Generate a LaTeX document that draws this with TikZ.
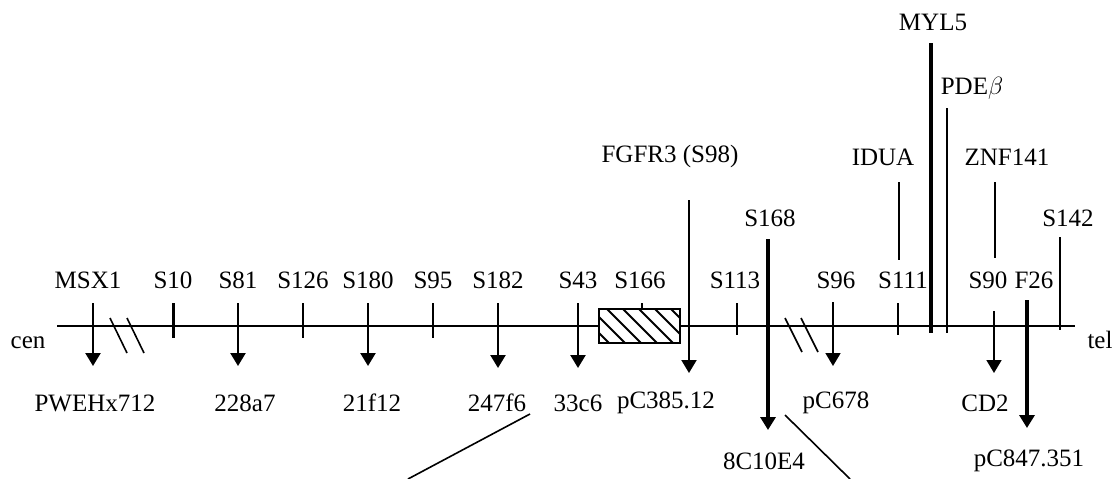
\documentclass[tikz,border=0pt]{standalone}
\usepackage{fontspec}
\setmainfont{Liberation Serif}
\usetikzlibrary{arrows.meta, calc}

\begin{document}
\begin{tikzpicture}[
    x=1pt, y=-1pt,
    font=\fontsize{25}{28}\selectfont,
    % Styles
    marklabel/.style={inner sep=0pt, anchor=center},
    axisline/.style={line width=2pt},
    thintick/.style={line width=1.6pt},
    boldtick/.style={line width=3pt},
    probearrow/.style={-{Triangle[width=15pt, length=13pt]}, line width=2.4pt},
    slimprobe/.style={-{Triangle[width=15pt, length=13pt]}, line width=1.8pt},
    bigprobe/.style={-{Triangle[width=15pt, length=13pt]}, line width=4pt},
    breakmark/.style={line width=1.6pt},
    hatchbox/.style={draw, fill=white, line width=1.6pt, minimum width=81pt, minimum height=34pt, inner sep=0pt},
    hatchline/.style={line width=2pt}
]
    \useasboundingbox (0,0) rectangle (1120,479);

    % ================= CHROMOSOME AXIS =================
    \coordinate (cenend) at (57,326);
    \coordinate (telend) at (1075,326);
    \node[marklabel] (cen) at (28,343) {cen};
    \node[marklabel] (tel) at (1100,340) {tel};
    \draw[axisline] (cenend) -- (telend);

    % hatched region round FGFR3
    \node[hatchbox] (fgfrbox) at (639.5,326) {};
    \begin{scope}
        \clip (fgfrbox.south west) rectangle (fgfrbox.north east);
        \foreach \dx in {-24,-8,...,88}
            \draw[hatchline] ($(fgfrbox.north west)+(\dx,0)$) -- ++(40,40);
    \end{scope}

    % breaks in the axis
    \coordinate (brka1) at (110,318); \coordinate (brka2) at (127,353);
    \coordinate (brkb1) at (127,318); \coordinate (brkb2) at (144,353);
    \coordinate (brkc1) at (785,318); \coordinate (brkc2) at (802,352);
    \coordinate (brkd1) at (801,318); \coordinate (brkd2) at (818,352);
    \draw[breakmark] (brka1) -- (brka2);
    \draw[breakmark] (brkb1) -- (brkb2);
    \draw[breakmark] (brkc1) -- (brkc2);
    \draw[breakmark] (brkd1) -- (brkd2);

    % ================= MARKER LABELS =================
    \node[marklabel] (msx1) at (88,280) {MSX1};
    \node[marklabel] (s10) at (173,280) {S10};
    \node[marklabel] (s81) at (238,280) {S81};
    \node[marklabel] (s126) at (303,280) {S126};
    \node[marklabel] (s180) at (368,280) {S180};
    \node[marklabel] (s95) at (433,280) {S95};
    \node[marklabel] (s182) at (498,280) {S182};
    \node[marklabel] (s43) at (578,280) {S43};
    \node[marklabel] (s166) at (640,280) {S166};
    \node[marklabel] (s113) at (735,280) {S113};
    \node[marklabel] (s96) at (836,280) {S96};
    \node[marklabel] (s111) at (903,280) {S111};
    \node[marklabel] (s90) at (988,280) {S90};
    \node[marklabel] (f26) at (1034,280) {F26};

    % genes and markers above the row
    \node[marklabel] (fgfr3) at (670,156) {FGFR3 (S98)};
    \node[marklabel] (s168) at (770,218) {S168};
    \node[marklabel] (idua) at (883,157) {IDUA};
    \node[marklabel] (znf141) at (1007,157) {ZNF141};
    \node[marklabel] (myl5) at (933,22) {MYL5};
    \node[marklabel] (pdeb) at (972,88) {PDE$\beta$};
    \node[marklabel] (s142) at (1068,218) {S142};

    % ================= PROBES =================
    \node[marklabel] (pwehx712) at (95,403) {PWEHx712};
    \node[marklabel] (p228a7) at (245,403) {228a7};
    \node[marklabel] (p21f12) at (372,403) {21f12};
    \node[marklabel] (p247f6) at (497,403) {247f6};
    \node[marklabel] (p33c6) at (578,403) {33c6};
    \node[marklabel] (pc385) at (666,403) {pC385.12};
    \node[marklabel] (pc678) at (836,403) {pC678};
    \node[marklabel] (cd2) at (985,403) {CD2};
    \node[marklabel] (p8c10e4) at (764,461) {8C10E4};
    \node[marklabel] (pc847) at (1029,461) {pC847.351};

    % ================= MARKER POSITIONS =================
    \coordinate (msx1top) at (93,303);   \coordinate (msx1tip) at (93,366);
    \coordinate (s10top) at (173,303);   \coordinate (s10bot) at (173,338);
    \coordinate (s81top) at (238,303);   \coordinate (s81tip) at (238,366);
    \coordinate (s126top) at (303,303);  \coordinate (s126bot) at (303,338);
    \coordinate (s180top) at (368,303);  \coordinate (s180tip) at (368,366);
    \coordinate (s95top) at (433,303);   \coordinate (s95bot) at (433,338);
    \coordinate (s182top) at (498,303);  \coordinate (s182tip) at (498,368);
    \coordinate (s43top) at (578,303);   \coordinate (s43tip) at (578,368);
    \coordinate (s166top) at (642,303);
    \coordinate (fgfr3top) at (689,200); \coordinate (fgfr3tip) at (689,373);
    \coordinate (s113top) at (737,303);  \coordinate (s113bot) at (737,335);
    \coordinate (s168top) at (768,239);  \coordinate (s168tip) at (768,430);
    \coordinate (s96top) at (833,302);   \coordinate (s96tip) at (833,366);
    \coordinate (s111top) at (898,303);  \coordinate (s111bot) at (898,335);
    \coordinate (iduatop) at (899,182);  \coordinate (iduabot) at (899,260);
    \coordinate (myl5top) at (931,43);   \coordinate (myl5bot) at (931,333);
    \coordinate (pdebtop) at (947,108);  \coordinate (pdebbot) at (947,333);
    \coordinate (znftop) at (995,182);   \coordinate (znfbot) at (995,258);
    \coordinate (s90top) at (994,311);   \coordinate (s90tip) at (994,373);
    \coordinate (f26top) at (1027,300);  \coordinate (f26tip) at (1027,428);
    \coordinate (s142top) at (1060,237); \coordinate (s142bot) at (1060,330);

    % ticks and lines
    \draw[boldtick] (s10top) -- (s10bot);
    \draw[thintick] (s126top) -- (s126bot);
    \draw[thintick, line width=2pt] (s95top) -- (s95bot);
    \draw[thintick] (s166top) -- (s166top |- fgfrbox.north);
    \draw[thintick] (s113top) -- (s113bot);
    \draw[thintick] (s111top) -- (s111bot);
    \draw[thintick, line width=2pt] (iduatop) -- (iduabot);
    \draw[boldtick, line width=3.5pt] (myl5top) -- (myl5bot);
    \draw[thintick, line width=2pt] (pdebtop) -- (pdebbot);
    \draw[thintick, line width=2pt] (znftop) -- (znfbot);
    \draw[boldtick, line width=2.5pt] (s142top) -- (s142bot);

    % probe arrows
    \draw[probearrow] (msx1top) -- (msx1tip);
    \draw[probearrow] (s81top) -- (s81tip);
    \draw[probearrow] (s180top) -- (s180tip);
    \draw[probearrow] (s182top) -- (s182tip);
    \draw[probearrow] (s43top) -- (s43tip);
    \draw[slimprobe, line width=2pt] (fgfr3top) -- (fgfr3tip);
    \draw[bigprobe] (s168top) -- (s168tip);
    \draw[slimprobe] (s96top) -- (s96tip);
    \draw[slimprobe] (s90top) -- (s90tip);
    \draw[bigprobe] (f26top) -- (f26tip);

    % ================= ZOOM LINES =================
    \coordinate (zoomla) at (530,414); \coordinate (zoomlb) at (408,479);
    \coordinate (zoomra) at (785,415); \coordinate (zoomrb) at (850,479);
    \draw[thintick] (zoomla) -- (zoomlb);
    \draw[thintick] (zoomra) -- (zoomrb);

\end{tikzpicture}
\end{document}
